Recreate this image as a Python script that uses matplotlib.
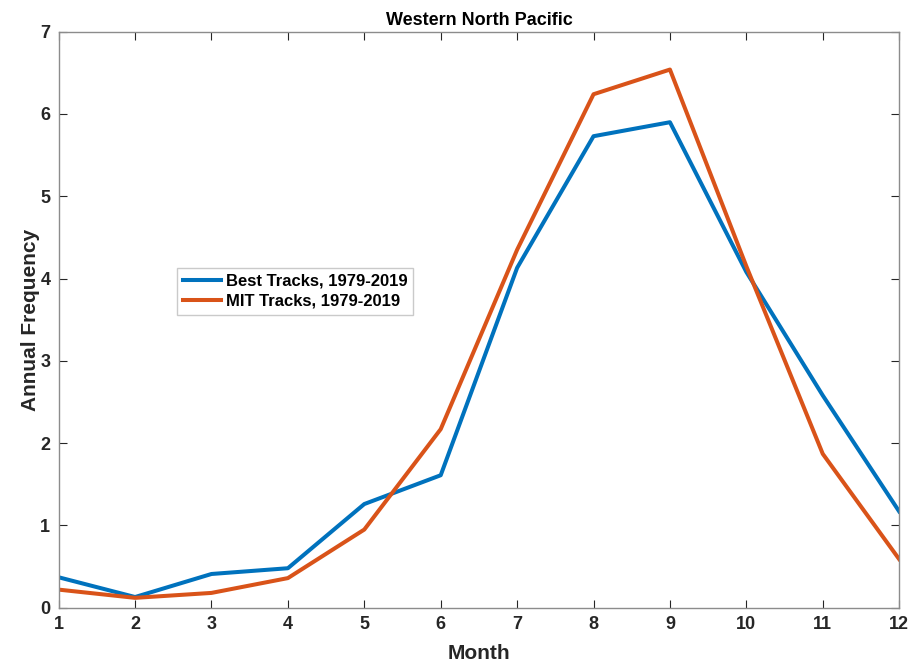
import matplotlib
matplotlib.use("Agg")
import matplotlib.pyplot as plt

months = [1, 2, 3, 4, 5, 6, 7, 8, 9, 10, 11, 12]
best_tracks = [0.37, 0.13, 0.41, 0.48, 1.26, 1.61, 4.13, 5.73, 5.90, 4.08, 2.58, 1.17]
mit_tracks = [0.22, 0.12, 0.18, 0.36, 0.95, 2.17, 4.35, 6.24, 6.54, 4.15, 1.87, 0.59]
labels = ["Best Tracks, 1979-2019", "MIT Tracks, 1979-2019"]

plt.rcParams["font.family"] = ["Liberation Sans", "DejaVu Sans"]
plt.rcParams["font.weight"] = "bold"

fig = plt.figure(figsize=(9.11, 6.66), dpi=100)
ax = fig.add_axes([0.0644, 0.0875, 0.9226, 0.8649])

ax.plot(months, best_tracks, color="#0072BD", lw=2.9, label=labels[0])
ax.plot(months, mit_tracks, color="#D95319", lw=2.9, label=labels[1])

ax.set_xlim(1, 12)
ax.set_ylim(0, 7)
ax.set_xticks(months)
ax.set_yticks(range(0, 8))
ax.tick_params(direction="in", top=True, right=True, length=6, width=0.8,
               color="#262626", labelsize=13, labelcolor="#262626", pad=6)
for s in ax.spines.values():
    s.set_color("#8c8c8c")
    s.set_linewidth(1.0)

ax.set_title("Western North Pacific", fontsize=13, fontweight="bold", color="black", pad=5)
ax.set_xlabel("Month", fontsize=15, fontweight="bold", color="#262626", labelpad=8)
ax.set_ylabel("Annual Frequency", fontsize=15, fontweight="bold", color="#262626", labelpad=0)

leg = ax.legend(loc="upper left", bbox_to_anchor=(0.141, 0.59), fontsize=12,
                frameon=True, fancybox=False, edgecolor="#bdbdbd", handlelength=2.3,
                handletextpad=0.25, borderpad=0.35, labelspacing=0.3, borderaxespad=0)
leg.get_frame().set_linewidth(1.0)

fig.savefig("out.png", dpi=100)
